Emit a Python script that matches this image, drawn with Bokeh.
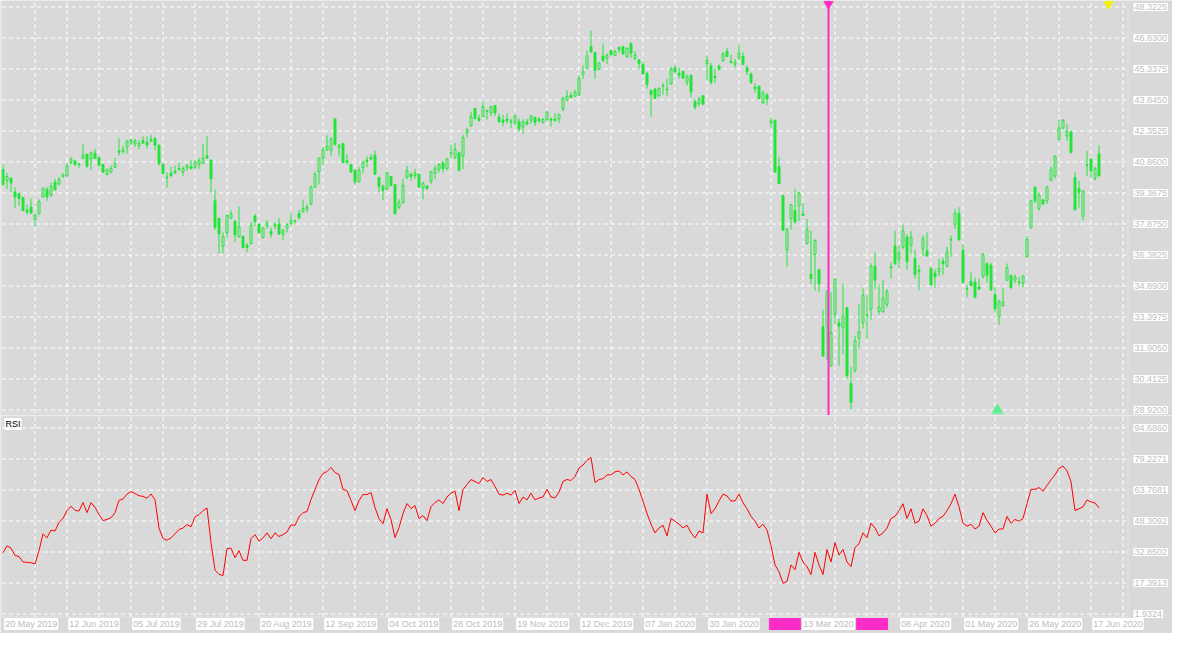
from bokeh.plotting import figure
from bokeh.layouts import column
from bokeh.models import Range1d, BoxAnnotation, ColumnDataSource, Span
from bokeh.core.properties import value
from bokeh.embed import file_html
from bokeh.resources import INLINE

# ---------------- data ----------------
opens = [40.50, 39.96, 40.07, 39.41, 39.34, 39.15, 38.54, 38.68, 38.09, 38.37,
         39.18, 39.54, 39.26, 39.88, 39.80, 40.16, 40.19, 40.84, 40.91, 40.78,
         41.03, 41.23, 41.00, 41.28, 41.08, 40.74, 40.25, 40.38, 40.61, 41.39,
         41.36, 41.59, 41.78, 41.73, 41.64, 41.89, 41.81, 41.87, 41.98, 41.67,
         40.74, 40.13, 40.32, 40.41, 40.55, 40.38, 40.58, 40.64, 40.58, 40.74,
         40.80, 41.16, 40.95, 38.99, 38.15, 36.80, 37.45, 38.15, 38.01, 37.25,
         37.28, 36.86, 36.93, 38.26, 37.87, 37.22, 37.77, 37.52, 37.84, 37.87,
         37.39, 37.67, 37.90, 38.00, 38.39, 38.47, 38.59, 38.84, 39.65, 40.39,
         41.05, 41.44, 41.42, 42.93, 41.56, 41.75, 40.92, 40.74, 40.46, 39.91,
         40.58, 40.95, 41.08, 41.19, 40.12, 39.69, 39.55, 40.16, 39.76, 38.67,
         38.90, 40.12, 40.27, 40.21, 40.27, 39.60, 39.71, 39.93, 40.32, 40.50,
         40.81, 40.55, 41.26, 41.08, 41.30, 41.14, 42.26, 42.60, 43.44, 42.97,
         43.04, 43.30, 43.22, 43.58, 43.02, 42.88, 42.93, 42.83, 42.73, 42.80,
         42.55, 42.79, 42.87, 43.01, 42.93, 42.76, 42.90, 42.93, 42.93, 42.93,
         43.41, 43.85, 44.06, 44.03, 44.08, 45.09, 45.37, 46.41, 46.13, 45.32,
         45.96, 45.85, 46.22, 45.99, 46.38, 46.41, 45.93, 46.57, 45.85, 45.77,
         45.55, 45.12, 44.31, 44.37, 44.05, 44.51, 44.37, 44.62, 45.40, 45.13,
         45.21, 44.70, 45.03, 43.77, 43.66, 44.05, 45.60, 45.49, 44.98, 45.48,
         45.74, 46.19, 45.71, 45.56, 45.88, 45.94, 45.40, 45.09, 44.47, 44.51,
         43.70, 44.09, 42.73, 42.86, 40.64, 39.23, 36.62, 38.14, 38.53, 38.75,
         38.36, 36.93, 35.46, 36.41, 35.68, 32.93, 32.96, 31.05, 33.51, 33.12,
         32.88, 33.85, 30.20, 30.83, 32.37, 33.12, 33.48, 33.77, 35.84, 33.66,
         33.66, 34.00, 35.78, 36.82, 36.18, 36.75, 37.24, 36.85, 36.21, 35.65,
         36.66, 36.58, 35.74, 35.51, 35.57, 36.09, 35.84, 37.11, 37.86, 38.39,
         36.62, 34.77, 35.12, 35.08, 34.84, 35.33, 35.96, 35.89, 34.47, 33.40,
         33.94, 35.17, 35.40, 35.17, 35.09, 35.04, 36.29, 37.69, 39.65, 38.62,
         39.04, 38.99, 39.97, 40.19, 41.93, 42.49, 42.12, 42.31, 40.11, 39.57,
         38.25, 40.70, 41.00, 40.07, 41.25]
highs = [40.73, 40.32, 40.13, 39.65, 39.40, 39.18, 38.81, 39.09, 38.37, 39.06,
         39.62, 39.65, 39.88, 40.04, 40.14, 40.32, 40.80, 41.11, 40.95, 40.81,
         41.70, 41.26, 41.36, 41.48, 41.11, 40.77, 40.55, 40.69, 41.05, 42.01,
         41.64, 41.93, 41.98, 41.98, 41.93, 42.10, 42.09, 42.18, 42.07, 41.70,
         40.80, 40.35, 40.63, 40.69, 40.86, 40.64, 40.77, 40.97, 40.97, 41.06,
         41.73, 42.09, 40.98, 39.52, 38.17, 37.47, 38.33, 38.53, 38.05, 38.72,
         37.32, 36.97, 37.97, 38.36, 37.91, 37.70, 38.06, 37.69, 37.97, 38.15,
         37.63, 37.92, 38.40, 38.09, 38.56, 39.03, 38.84, 39.72, 40.39, 41.08,
         41.59, 42.17, 42.06, 42.97, 41.73, 41.78, 41.23, 40.77, 40.50, 40.63,
         40.92, 41.14, 41.23, 41.42, 40.15, 39.77, 40.39, 40.19, 39.79, 39.07,
         40.07, 40.67, 40.36, 40.52, 40.30, 39.91, 39.74, 40.42, 40.70, 40.80,
         40.92, 41.05, 41.70, 41.78, 41.36, 42.17, 42.48, 43.29, 43.47, 43.13,
         43.77, 43.38, 43.57, 43.60, 43.21, 43.13, 43.21, 42.94, 43.15, 42.96,
         42.91, 42.93, 43.13, 43.04, 43.01, 42.97, 43.30, 43.01, 43.22, 43.19,
         44.00, 44.31, 44.22, 44.34, 45.04, 45.51, 46.22, 47.19, 46.16, 45.68,
         46.57, 46.07, 46.26, 46.26, 46.41, 46.46, 46.38, 46.61, 46.19, 45.82,
         45.71, 45.20, 44.34, 44.42, 44.47, 44.67, 44.86, 45.45, 45.51, 45.40,
         45.29, 45.09, 45.09, 43.88, 44.00, 44.08, 46.00, 45.63, 45.35, 45.55,
         46.16, 46.35, 46.02, 45.82, 46.50, 46.15, 45.51, 45.17, 44.67, 44.54,
         44.31, 44.19, 43.02, 42.91, 41.11, 39.29, 37.66, 38.84, 39.57, 39.41,
         38.87, 38.12, 37.55, 37.14, 35.72, 33.74, 34.67, 34.59, 35.26, 33.32,
         35.01, 33.88, 30.99, 32.50, 34.02, 34.78, 34.44, 35.98, 36.51, 34.95,
         35.18, 34.75, 36.02, 37.56, 36.82, 37.84, 37.38, 37.53, 36.62, 35.90,
         37.33, 37.47, 35.78, 35.70, 36.21, 36.24, 36.77, 37.32, 38.59, 38.68,
         36.91, 34.94, 35.56, 35.29, 35.25, 36.49, 36.04, 35.99, 34.81, 34.22,
         34.78, 35.98, 35.43, 35.45, 35.31, 35.42, 37.31, 39.03, 39.68, 39.41,
         39.07, 39.71, 40.64, 41.17, 42.88, 42.93, 42.68, 42.34, 40.36, 39.94,
         39.49, 41.39, 41.03, 40.63, 41.67]
lows = [39.73, 39.54, 39.38, 38.64, 38.76, 38.48, 38.33, 38.37, 37.78, 38.34,
        39.15, 38.99, 39.18, 39.49, 39.73, 40.11, 40.16, 40.74, 40.66, 40.58,
        41.02, 40.58, 40.46, 41.00, 40.61, 40.33, 40.22, 40.32, 40.58, 41.17,
        41.26, 41.26, 41.67, 41.59, 41.47, 41.73, 41.51, 41.82, 41.42, 40.69,
        40.27, 39.63, 40.16, 40.30, 40.43, 40.19, 40.43, 40.50, 40.55, 40.52,
        40.77, 41.02, 39.40, 37.59, 36.46, 36.46, 37.21, 38.12, 37.01, 37.22,
        36.71, 36.51, 36.88, 37.78, 37.41, 37.19, 37.66, 37.22, 37.63, 37.36,
        37.10, 37.47, 37.80, 37.90, 38.09, 38.43, 38.43, 38.78, 39.62, 39.77,
        40.70, 41.40, 41.17, 41.64, 41.12, 40.80, 40.77, 40.35, 39.77, 39.88,
        40.30, 40.61, 40.97, 40.24, 39.41, 39.03, 39.52, 39.69, 38.34, 38.59,
        38.87, 40.04, 39.96, 40.04, 39.62, 39.06, 39.54, 39.80, 40.02, 40.35,
        40.35, 40.46, 41.02, 41.00, 40.39, 40.52, 42.04, 42.57, 42.91, 42.82,
        43.01, 42.90, 43.07, 43.07, 42.76, 42.57, 42.71, 42.48, 42.63, 42.34,
        42.20, 42.63, 42.71, 42.60, 42.76, 42.71, 42.85, 42.57, 42.82, 42.73,
        43.30, 43.78, 43.94, 44.00, 44.05, 44.86, 45.34, 46.13, 44.86, 45.29,
        45.70, 45.57, 45.99, 45.96, 46.10, 46.02, 45.90, 45.87, 45.76, 45.32,
        45.09, 44.39, 43.04, 43.88, 44.00, 44.11, 44.03, 44.58, 45.13, 44.86,
        44.87, 44.54, 43.97, 43.38, 43.53, 43.61, 44.78, 44.58, 44.65, 45.27,
        45.70, 45.91, 45.60, 45.39, 45.76, 45.52, 45.06, 44.62, 44.19, 43.88,
        43.67, 43.61, 42.52, 40.35, 39.79, 37.55, 35.81, 37.60, 37.86, 38.01,
        38.25, 36.90, 34.98, 34.67, 34.59, 31.48, 31.33, 30.99, 33.07, 31.05,
        31.61, 30.44, 28.92, 30.71, 31.87, 32.85, 32.34, 33.27, 34.75, 33.51,
        33.58, 33.85, 35.25, 35.92, 35.76, 36.66, 35.68, 36.46, 35.25, 34.69,
        36.34, 36.30, 34.89, 34.80, 35.37, 35.42, 35.79, 36.30, 37.63, 37.08,
        35.00, 34.36, 34.87, 34.31, 34.69, 35.26, 35.06, 34.67, 33.60, 33.01,
        33.89, 35.14, 34.77, 35.02, 34.86, 34.83, 36.26, 37.66, 38.87, 38.51,
        38.79, 38.84, 39.94, 40.07, 41.90, 42.46, 41.87, 41.28, 38.53, 38.67,
        38.05, 40.19, 40.13, 39.97, 40.16]
closes = [39.77, 40.16, 39.85, 39.17, 39.10, 38.53, 38.45, 38.40, 38.31, 38.95,
          39.60, 39.18, 39.69, 39.52, 40.02, 40.24, 40.67, 41.00, 40.74, 40.75,
          41.19, 40.66, 41.31, 41.03, 40.71, 40.38, 40.49, 40.55, 40.78, 41.33,
          41.48, 41.85, 41.93, 41.87, 41.76, 41.78, 41.68, 41.95, 41.67, 40.78,
          40.30, 40.10, 40.19, 40.33, 40.50, 40.55, 40.69, 40.55, 40.86, 40.92,
          41.05, 41.05, 40.05, 37.72, 37.39, 37.28, 38.29, 38.36, 37.35, 37.73,
          36.74, 36.74, 37.81, 38.00, 37.45, 37.69, 37.92, 37.39, 37.78, 37.39,
          37.56, 37.83, 38.05, 38.02, 38.17, 38.62, 38.68, 39.65, 40.27, 41.05,
          41.44, 41.62, 41.95, 41.72, 41.67, 40.84, 40.83, 40.38, 39.91, 40.46,
          40.86, 40.88, 41.00, 40.27, 39.68, 39.49, 40.35, 39.73, 38.37, 38.90,
          39.74, 40.44, 40.15, 40.32, 39.65, 39.83, 39.57, 40.39, 40.55, 40.74,
          40.53, 41.02, 41.30, 41.47, 40.47, 42.04, 42.42, 43.05, 42.96, 42.85,
          43.52, 43.33, 43.53, 43.22, 42.80, 42.76, 42.85, 42.79, 43.07, 42.45,
          42.80, 42.68, 43.07, 42.76, 42.85, 42.91, 43.27, 42.87, 42.85, 43.15,
          43.91, 44.03, 43.97, 44.22, 44.89, 45.20, 45.96, 46.16, 45.28, 45.63,
          45.74, 46.00, 46.02, 46.19, 46.27, 46.07, 46.33, 46.10, 46.00, 45.60,
          45.10, 44.58, 44.11, 43.92, 44.40, 44.54, 44.33, 45.34, 45.21, 45.04,
          44.90, 44.96, 44.23, 43.50, 43.89, 43.64, 45.76, 44.70, 44.92, 45.32,
          46.07, 45.94, 45.65, 45.66, 46.10, 45.56, 45.21, 44.70, 44.39, 43.91,
          44.20, 43.88, 42.83, 40.38, 39.82, 37.58, 37.63, 38.81, 37.98, 39.37,
          38.28, 37.60, 35.25, 37.08, 35.01, 31.52, 34.63, 32.65, 35.22, 32.96,
          33.43, 30.58, 29.28, 32.26, 32.68, 34.44, 33.51, 35.84, 35.17, 33.88,
          34.30, 34.63, 35.82, 35.96, 36.49, 37.55, 36.06, 37.24, 35.45, 35.59,
          37.18, 36.34, 34.95, 35.34, 35.73, 35.96, 36.52, 37.14, 38.39, 37.11,
          35.06, 34.74, 34.91, 34.35, 34.74, 36.40, 35.40, 34.70, 33.80, 34.16,
          34.11, 35.78, 34.80, 35.31, 35.06, 35.37, 37.13, 38.99, 38.99, 39.27,
          38.84, 39.65, 40.49, 41.14, 42.49, 42.87, 42.35, 41.31, 38.56, 39.40,
          39.46, 40.73, 40.44, 40.53, 40.19]

rsi_vals = [
    32.4, 35.9, 34.8, 31.1, 30.6, 27.9, 27.7, 27.5, 26.9, 33.5,
    41.9, 39.9, 43.8, 43.3, 47.7, 49.6, 53.5, 55.7, 53.6, 53.3,
    57.5, 52.5, 57.5, 55.2, 51.5, 48.5, 49.1, 49.9, 52.5, 58.6,
    59.3, 61.7, 63.0, 62.0, 60.9, 60.6, 59.6, 61.8, 58.9, 44.8,
    39.6, 38.7, 39.9, 41.9, 44.1, 44.8, 46.5, 45.4, 50.4, 51.5,
    53.5, 54.8, 37.5, 23.8, 21.7, 21.1, 34.5, 34.8, 30.0, 33.5,
    28.7, 28.7, 39.5, 41.5, 38.3, 39.9, 42.4, 39.5, 42.4, 40.6,
    41.5, 42.8, 46.4, 46.1, 50.4, 52.5, 53.0, 59.0, 64.0, 69.0,
    72.0, 73.0, 75.0, 72.5, 71.5, 64.0, 63.5, 58.5, 53.5, 58.5,
    61.5, 61.5, 62.5, 55.0, 49.5, 47.0, 54.5, 49.0, 40.0, 45.0,
    52.0, 57.0, 54.5, 56.0, 49.5, 51.0, 48.5, 55.5, 57.5, 58.8,
    57.0, 60.3, 62.2, 63.2, 53.5, 64.0, 66.5, 69.0, 68.0, 67.0,
    70.0, 68.0, 69.0, 65.5, 61.7, 61.2, 62.2, 61.2, 63.6, 57.0,
    60.3, 58.8, 62.2, 58.8, 59.8, 60.3, 64.1, 60.3, 59.8, 62.7,
    68.0, 69.0, 68.5, 70.5, 74.7, 76.2, 78.6, 80.0, 67.5, 69.0,
    69.4, 71.3, 71.3, 72.8, 73.3, 71.3, 72.8, 70.5, 69.0, 64.1,
    58.2, 52.0, 46.7, 42.4, 44.8, 46.2, 40.9, 49.6, 48.2, 46.7,
    44.8, 46.2, 42.4, 39.9, 43.3, 42.4, 61.7, 52.0, 54.4, 58.3,
    61.7, 60.8, 58.3, 58.3, 61.7, 57.4, 54.4, 50.6, 48.2, 44.8,
    46.7, 43.8, 36.0, 26.4, 23.0, 17.2, 18.2, 26.4, 24.0, 32.7,
    27.9, 25.5, 21.6, 32.7, 26.4, 21.6, 34.1, 27.9, 37.5, 31.3,
    34.1, 27.9, 25.5, 35.1, 37.0, 42.4, 39.9, 47.2, 44.8, 40.9,
    42.4, 44.8, 49.6, 50.6, 53.5, 56.9, 49.6, 54.4, 47.2, 48.2,
    54.4, 51.0, 45.7, 47.2, 49.6, 50.6, 53.5, 56.9, 61.7, 55.4,
    47.2, 45.7, 46.7, 44.3, 45.7, 52.5, 48.6, 45.7, 42.4, 44.3,
    44.3, 50.6, 47.2, 49.1, 48.2, 49.6, 56.9, 64.1, 64.1, 65.0,
    63.1, 66.0, 68.9, 71.3, 74.7, 75.7, 73.3, 67.9, 53.5, 54.4,
    55.4, 58.8, 57.8, 57.3, 54.9]

price_ticks = [48.3225, 46.8300, 45.3375, 43.8450, 42.3525, 40.8600, 39.3675,
               37.8750, 36.3825, 34.8900, 33.3975, 31.9050, 30.4125, 28.9200]
rsi_ticks = [94.6860, 79.2271, 63.7681, 48.3092, 32.8502, 17.3913, 1.9324]
date_tick_bars = [0, 16, 32, 48, 64, 80, 96, 112, 128, 144, 160, 176, 224, 240, 256, 272]
date_tick_labels = ["20 May 2019", "12 Jun 2019", "05 Jul 2019", "29 Jul 2019",
                    "20 Aug 2019", "12 Sep 2019", "04 Oct 2019", "28 Oct 2019",
                    "19 Nov 2019", "12 Dec 2019", "07 Jan 2020", "30 Jan 2020",
                    "08 Apr 2020", "01 May 2020", "26 May 2020", "17 Jun 2020"]
event_label = "13 Mar 2020"

# ---------------- style / layout ----------------
BG = "#d9d9d9"
GRID = "#ffffff"
CANDLE = "#24e43a"
RSI_COLOR = "#ff0000"
MAGENTA = "#ff2dc8"
LABEL_TEXT = "#bdbdbd"
FONT = value("Liberation Sans")

W, HT, HB = 1172, 415, 218
PX_BAR = 4.0
X0 = -0.625                      # bar 0 sits at 2.5 px
x_range = Range1d(X0, X0 + W / PX_BAR)

def bar_at(px):
    return X0 + px / PX_BAR

STEP_PX = 31.0
k_price = STEP_PX / (price_ticks[0] - price_ticks[1])
p_top = price_ticks[0] + 6.5 / k_price
p_bot = p_top - HT / k_price
def price_at(px):
    return p_top - px / k_price

k_rsi = STEP_PX / (rsi_ticks[0] - rsi_ticks[1])
r_top = rsi_ticks[0] + 12.5 / k_rsi
r_bot = r_top - HB / k_rsi
def rsi_at(px):
    return r_top - px / k_rsi

left_edge = bar_at(1.5)
right_edge = bar_at(1127.5)
grid_right = bar_at(1125.5)
label_x = bar_at(1133)
event_bar = bar_at(828)
yellow_bar = bar_at(1108)
green_bar = bar_at(997)
vgrid = list(range(8, int(right_edge), 8))


def make_fig(h, yr):
    f = figure(width=W, height=h, x_range=x_range, y_range=yr,
               output_backend="svg", toolbar_location=None,
               x_axis_location=None, y_axis_location=None, min_border=0,
               background_fill_color=BG, border_fill_color=BG,
               outline_line_color=None)
    f.xgrid.visible = False
    f.ygrid.visible = False
    return f


# ---------------- price panel ----------------
top = make_fig(HT, Range1d(p_bot, p_top))
top_frame_bottom = price_at(412.5)
top.segment(x0=vgrid, y0=[top_frame_bottom] * len(vgrid), x1=vgrid,
            y1=[p_top] * len(vgrid), line_color=GRID, line_dash="4 3", line_width=1)
top.segment(x0=[left_edge] * len(price_ticks), y0=price_ticks,
            x1=[grid_right] * len(price_ticks), y1=price_ticks,
            line_color=GRID, line_dash="4 3", line_width=1)
top.add_layout(BoxAnnotation(left=left_edge, right=right_edge, bottom=top_frame_bottom,
                             top=p_top + 10, fill_alpha=0, line_color=GRID, line_width=1))

idx = list(range(len(closes)))
up = [i for i in idx if closes[i] >= opens[i]]
dn = [i for i in idx if closes[i] < opens[i]]
top.segment(x0=idx, y0=lows, x1=idx, y1=highs, line_color=CANDLE, line_width=1)
src_up = ColumnDataSource(dict(x=up, t=[closes[i] for i in up], b=[opens[i] for i in up]))
src_dn = ColumnDataSource(dict(x=dn, t=[opens[i] for i in dn], b=[closes[i] for i in dn]))
top.vbar(x="x", top="t", bottom="b", width=0.5, source=src_up,
         fill_color=BG, line_color=CANDLE, line_width=1)
top.vbar(x="x", top="t", bottom="b", width=0.5, source=src_dn,
         fill_color=CANDLE, line_color=CANDLE, line_width=1)

top.add_layout(Span(location=event_bar, dimension="height", line_color=MAGENTA, line_width=2))
top.scatter(x=[event_bar], y=[price_at(3.5)], marker="inverted_triangle", size=9,
            fill_color=MAGENTA, line_color=MAGENTA)
top.scatter(x=[yellow_bar], y=[price_at(3.5)], marker="inverted_triangle", size=9,
            fill_color="#f2f200", line_color="#f2f200")
top.scatter(x=[green_bar], y=[price_at(410)], marker="triangle", size=11,
            fill_color="#5cf08c", line_color="#5cf08c")

top.text(x=[label_x] * len(price_ticks), y=price_ticks,
         text=[f"{v:.4f}" for v in price_ticks], text_font=FONT, text_font_size="9px",
         text_color=LABEL_TEXT, text_align="left", text_baseline="middle",
         background_fill_color="white", padding=1)

# ---------------- RSI panel ----------------
bot = make_fig(HB, Range1d(r_bot, r_top))
r_frame_top = rsi_at(0.5)
r_frame_bottom = rsi_at(201.5)
bot.segment(x0=vgrid, y0=[r_frame_bottom] * len(vgrid), x1=vgrid,
            y1=[r_frame_top] * len(vgrid), line_color=GRID, line_dash="4 3", line_width=1)
bot.segment(x0=[left_edge] * len(rsi_ticks), y0=rsi_ticks,
            x1=[grid_right] * len(rsi_ticks), y1=rsi_ticks,
            line_color=GRID, line_dash="4 3", line_width=1)
bot.add_layout(BoxAnnotation(left=left_edge, right=right_edge, bottom=r_frame_bottom,
                             top=r_frame_top, fill_alpha=0, line_color=GRID, line_width=1))

bot.line(x=list(range(len(rsi_vals))), y=rsi_vals, line_color=RSI_COLOR, line_width=1)

bot.text(x=[bar_at(4)], y=[rsi_at(8.5)], text=["RSI"], text_font=FONT,
         text_font_size="9px", text_color="#000000", text_align="left",
         text_baseline="middle", background_fill_color="white", padding=1)

bot.text(x=[label_x] * len(rsi_ticks), y=rsi_ticks,
         text=[f"{v:.4f}" for v in rsi_ticks], text_font=FONT, text_font_size="9px",
         text_color=LABEL_TEXT, text_align="left", text_baseline="middle",
         background_fill_color="white", padding=1)

date_y = rsi_at(208.5)
bot.text(x=[b + 0.3 for b in date_tick_bars], y=[date_y] * len(date_tick_bars),
         text=date_tick_labels, text_font=FONT, text_font_size="9px",
         text_color=LABEL_TEXT, text_align="left", text_baseline="middle",
         background_fill_color="white", padding=1)
bot.rect(x=[event_bar - 10.9, event_bar + 10.9], y=[date_y, date_y], width=8,
         height=12 / k_rsi, fill_color=MAGENTA, line_color=None)
bot.text(x=[event_bar], y=[date_y], text=[event_label], text_font=FONT,
         text_font_size="9px", text_color=LABEL_TEXT, text_align="center",
         text_baseline="middle", background_fill_color="white", padding=1)

layout = column(top, bot, spacing=0)
open("out.html", "w").write(file_html(layout, INLINE))
